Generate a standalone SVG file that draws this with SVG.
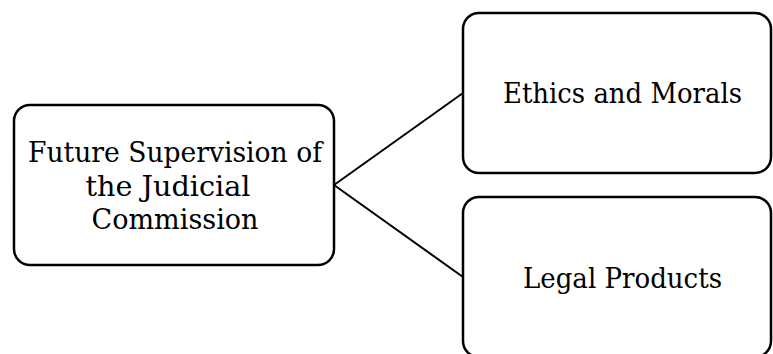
<svg xmlns="http://www.w3.org/2000/svg" width="773" height="354" viewBox="0 0 773 354">
<style>
.box{fill:#fff;stroke:#000;stroke-width:2.5}
.lbl{font-family:"DejaVu Serif","Liberation Serif",serif;font-size:28.5px;fill:#000;text-anchor:middle}
.conn{stroke:#000;stroke-width:2;fill:none}
</style>
<rect width="773" height="354" fill="#fff"/>
<g id="connectors">
<line class="conn" x1="334" y1="185" x2="463" y2="93"/>
<line class="conn" x1="334" y1="185" x2="463" y2="277"/>
</g>
<g id="node-future">
<rect class="box" x="14" y="105" width="320" height="160" rx="16"/>
<text class="lbl" x="175" y="162" textLength="294" lengthAdjust="spacingAndGlyphs">Future Supervision of</text>
<text class="lbl" x="168" y="196" textLength="165" lengthAdjust="spacingAndGlyphs">the Judicial</text>
<text class="lbl" x="175" y="229" textLength="167" lengthAdjust="spacingAndGlyphs">Commission</text>
</g>
<g id="node-ethics">
<rect class="box" x="463" y="13" width="308" height="160" rx="16"/>
<text class="lbl" x="622.5" y="103" textLength="239" lengthAdjust="spacingAndGlyphs">Ethics and Morals</text>
</g>
<g id="node-legal">
<rect class="box" x="463" y="197" width="308" height="160" rx="16"/>
<text class="lbl" x="622.5" y="288" textLength="199" lengthAdjust="spacingAndGlyphs">Legal Products</text>
</g>
</svg>
